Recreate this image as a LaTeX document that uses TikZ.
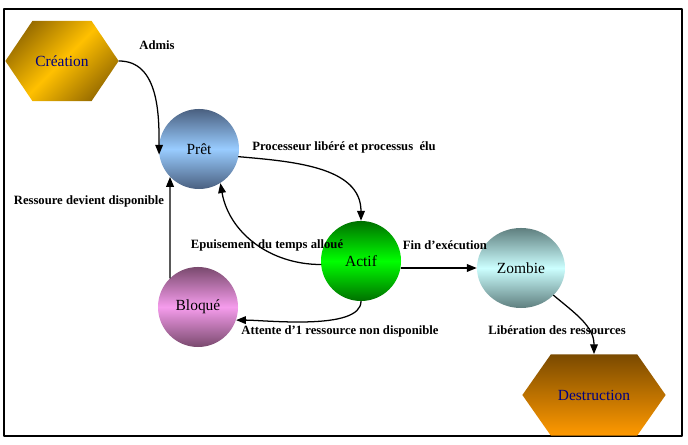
\documentclass[tikz,border=0pt]{standalone}
\usepackage{fontspec}
\setmainfont{Liberation Serif}
\usetikzlibrary{arrows.meta,shapes.geometric,shapes.symbols}

\definecolor{gold}{HTML}{FFC000}
\definecolor{golddark}{HTML}{9A6E00}
\definecolor{slate}{HTML}{4A6080}
\definecolor{skyblue}{HTML}{99CCFF}
\definecolor{lime}{HTML}{00FF00}
\definecolor{darkgreen}{HTML}{007000}
\definecolor{plum}{HTML}{7A4A6E}
\definecolor{rose}{HTML}{F59CEC}
\definecolor{teal}{HTML}{5F7F7F}
\definecolor{paleblue}{HTML}{CCFFFF}
\definecolor{brown}{HTML}{7A4A00}
\definecolor{orange}{HTML}{FF9900}
\definecolor{navy}{HTML}{000080}

\tikzset{
  etat/.style={circle, minimum size=2cm, inner sep=0pt, font=\fontsize{11}{13}\selectfont},
  extreme/.style={signal, signal to=east and west, signal pointer angle=112,
    minimum width=2.83cm, minimum height=2cm, inner sep=0pt, text=navy,
    font=\fontsize{11}{13}\selectfont},
  transition/.style={font=\fontsize{9}{11}\selectfont\bfseries, inner sep=1pt},
  fleche/.style={->, line width=0.9pt}
}

\begin{document}
\begin{tikzpicture}[x=0.025cm, y=0.025cm, line cap=round, line join=round,
  >={Triangle[length=7pt,width=5.5pt]}]

\useasboundingbox (0,0) rectangle (688,445);
\draw[line width=0.8pt] (4,9) rectangle (682,436);

% les etats
\node[extreme, top color=golddark, bottom color=golddark, middle color=gold, shading angle=45]
  (creation) at (62,384) {Création};
\node[etat, top color=slate, bottom color=slate, middle color=skyblue] (pret) at (199,296) {Prêt};
\node[etat, top color=darkgreen, bottom color=darkgreen, middle color=lime] (actif) at (361,184) {Actif};
\node[etat, top color=plum, bottom color=plum, middle color=rose] (bloque) at (198,138) {Bloqué};
\node[etat, ellipse, minimum width=2.2cm, top color=teal, bottom color=teal, middle color=paleblue]
  (zombie) at (521,177) {Zombie};
\node[extreme, minimum width=3.58cm, minimum height=2.03cm, signal pointer angle=110,
  top color=brown, bottom color=orange] (destruction) at (594,50) {Destruction};

% les transitions
\draw[fleche] (creation.east) to[out=0, in=90] (pret.188);
\draw[fleche] (pret.-11) to[out=-5, in=90] (actif.north);
\draw[fleche] (actif.185) to[out=180, in=-80] (pret.-58);
\draw[fleche] (actif.south) to[out=-90, in=0, looseness=0.6] (bloque.-19);
\draw[fleche] (bloque.134) -- (pret.224);
\draw[fleche] (actif.east |- zombie.west) -- (zombie.west);
\draw[fleche] (zombie.-40) to[out=-40, in=90] (destruction.north);

\node[transition] (admis) at (157,400) {Admis};
\node[transition] (elu) at (344,298) {Processeur libéré et processus\ \ élu};
\node[transition] (epuise) at (267,200) {Epuisement du temps alloué};
\node[transition] (fin) at (445,200) {Fin d’exécution};
\node[transition] (dispo) at (89,244) {Ressoure devient disponible};
\node[transition] (attente) at (340,114) {Attente d’1 ressource non disponible};
\node[transition] (liberation) at (557,115) {Libération des ressources};

\end{tikzpicture}
\end{document}
